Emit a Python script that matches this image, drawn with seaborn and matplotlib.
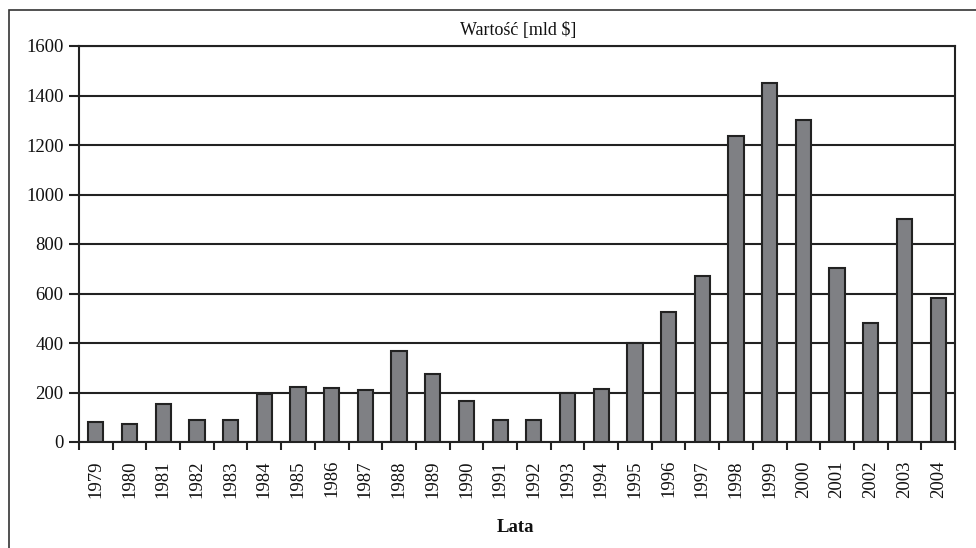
import matplotlib
matplotlib.use("Agg")
import matplotlib.pyplot as plt
from matplotlib.patches import Rectangle
import seaborn as sns
import pandas as pd

# Annual values, billions of USD
years = ["1979", "1980", "1981", "1982", "1983", "1984", "1985", "1986", "1987",
         "1988", "1989", "1990", "1991", "1992", "1993", "1994", "1995", "1996",
         "1997", "1998", "1999", "2000", "2001", "2002", "2003", "2004"]
values = [80, 72, 152, 88, 88, 195, 224, 217, 209,
          368, 275, 167, 88, 88, 200, 216, 400, 525,
          670, 1235, 1450, 1300, 705, 480, 900, 580]
y_ticks = [0, 200, 400, 600, 800, 1000, 1200, 1400, 1600]

title_text = "Wartość [mld $]"
xlabel_text = "Lata"

sns.set_theme(style="white")
plt.rcParams["font.family"] = ["Liberation Serif", "DejaVu Serif"]

df = pd.DataFrame({"rok": years, "wartosc": values})

fig = plt.figure(figsize=(9.76, 5.48), dpi=100)
ax = fig.add_axes([79 / 976, 1 - 442 / 548, (955 - 79) / 976, (442 - 46) / 548])

ink = "#222222"

sns.barplot(data=df, x="rok", y="wartosc", color="#7f8084", width=0.45,
            edgecolor=ink, linewidth=1.5, saturation=1, ax=ax, zorder=3)

ax.set_ylim(0, 1600)
ax.set_xlim(-0.5, len(years) - 0.5)
ax.set_yticks(y_ticks)
ax.set_yticklabels([str(t) for t in y_ticks], fontsize=13.5, color="#111111")
ax.yaxis.grid(True, color=ink, linewidth=1.5, zorder=0)
ax.xaxis.grid(False)
ax.set_axisbelow(True)

# Category labels, with tick marks on the boundaries between bars
ax.set_xticks(range(len(years)))
ax.set_xticklabels(years, rotation=90, fontsize=13.5, color="#111111")
ax.set_xticks([i - 0.5 for i in range(len(years) + 1)], minor=True)
ax.tick_params(axis="x", which="major", length=0, pad=13)
ax.tick_params(axis="x", which="minor", length=6, width=1.5, color=ink, direction="out", bottom=True)
ax.tick_params(axis="y", which="major", length=7, width=1.5, color=ink, direction="out", left=True, pad=4)

for side in ["left", "right", "bottom", "top"]:
    ax.spines[side].set_visible(True)
    ax.spines[side].set_color(ink)
    ax.spines[side].set_linewidth(1.5)

ax.set_xlabel("")
ax.set_ylabel("")

fig.text(518 / 976, 1 - 31 / 548, title_text, ha="center", va="center",
         fontsize=13, color="#111111")
fig.text(515 / 976, 1 - 527 / 548, xlabel_text, ha="center", va="center",
         fontsize=13.5, fontweight="bold", color="#111111")

# Outer chart frame
frame = Rectangle((9 / 976, -0.2), 1.2, (548 - 10) / 548 + 0.2,
                  transform=fig.transFigure, fill=False, edgecolor="#333333",
                  linewidth=1.2)
fig.patches.append(frame)

fig.savefig("out.png", dpi=100, facecolor="white")
